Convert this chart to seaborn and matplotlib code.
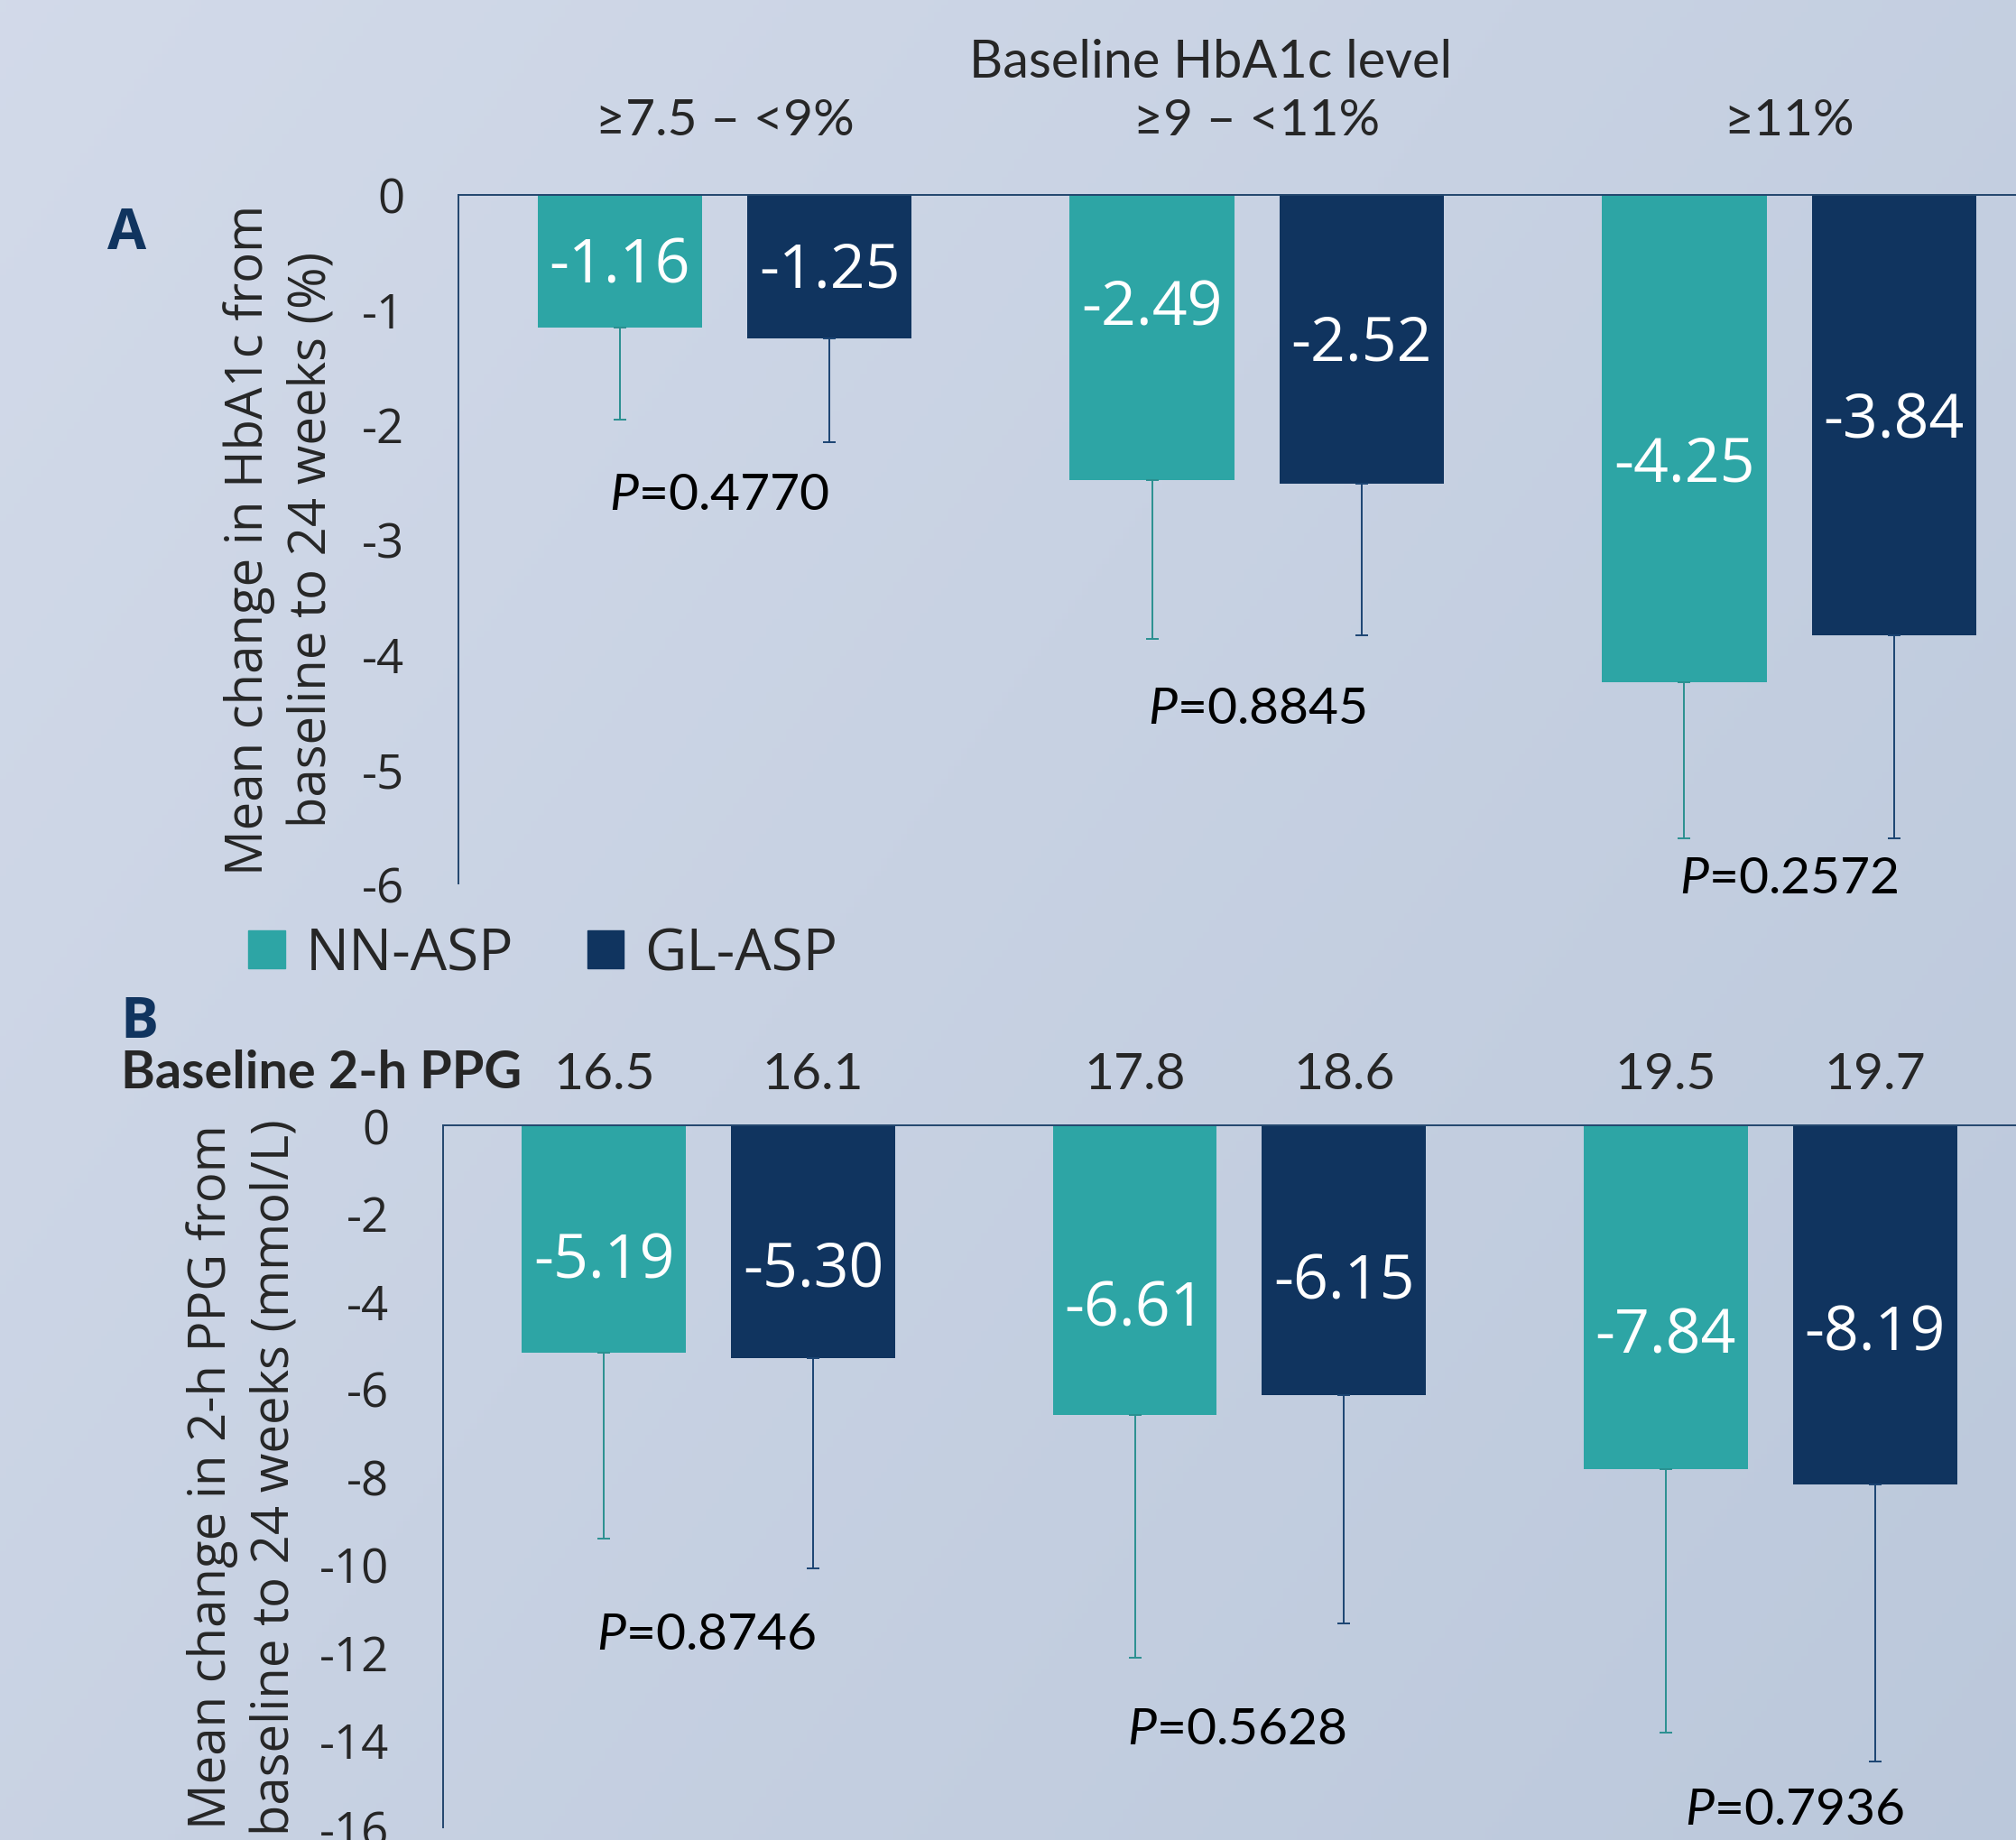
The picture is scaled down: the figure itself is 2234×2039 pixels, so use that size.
"""
HbA1c and 2-h PPG change from baseline to 24 weeks by baseline HbA1c subgroup,
NN-ASP vs GL-ASP (two stacked bar panels, one-sided SD error bars).
"""
import numpy as np
import pandas as pd
import matplotlib
matplotlib.use("Agg")
import matplotlib.pyplot as plt
import matplotlib.transforms as mtrans
from matplotlib.patches import Patch
import seaborn as sns

# ----------------------------------------------------------------------
# Data
# ----------------------------------------------------------------------
GROUPS = ["≥7.5 – <9%", "≥9 – <11%", "≥11%"]
ARMS   = ["NN-ASP", "GL-ASP"]

HBA1C_NN    = [-1.16, -2.49, -4.25]
HBA1C_GL    = [-1.25, -2.52, -3.84]
HBA1C_SD_NN = [0.80, 1.38, 1.36]
HBA1C_SD_GL = [0.91, 1.32, 1.77]
HBA1C_P     = ["0.4770", "0.8845", "0.2572"]

PPG_NN      = [-5.19, -6.61, -7.84]
PPG_GL      = [-5.30, -6.15, -8.19]
PPG_SD_NN   = [4.22, 5.53, 6.00]
PPG_SD_GL   = [4.79, 5.20, 6.30]
PPG_BASE_NN = [16.5, 17.8, 19.5]
PPG_BASE_GL = [16.1, 18.6, 19.7]
PPG_P       = ["0.8746", "0.5628", "0.7936"]

# ----------------------------------------------------------------------
# Annotation placement (data units), bar order NN1, GL1, NN2, GL2, NN3, GL3
# ----------------------------------------------------------------------
LABEL_Y_A = [-0.62, -0.66, -0.99, -1.30, -2.35, -1.97]
LABEL_Y_B = [-3.11, -3.31, -4.19, -3.58, -4.81, -4.75]
P_Y_A     = [-2.62, -4.48, -5.96]
P_Y_B     = [-11.60, -13.76, -15.60]
P_DX_A    = [-0.01, 0.0, 0.0]
P_DX_B    = [-0.005, -0.005, 0.045]

# ----------------------------------------------------------------------
# Style
# ----------------------------------------------------------------------
TEAL      = "#2da5a5"
NAVY      = "#10345f"
TEAL_ERR  = "#2a9090"
NAVY_ERR  = "#1b4472"
SPINE     = "#22466d"
PALETTE   = {"NN-ASP": TEAL, "GL-ASP": NAVY}
ERR_COL   = {"NN-ASP": TEAL_ERR, "GL-ASP": NAVY_ERR}

SANS  = ["Open Sans", "DejaVu Sans"]
CALI  = ["Lato", "DejaVu Sans"]

sns.set_style("white")
plt.rcParams.update({
    "font.family": SANS,
    "axes.unicode_minus": False,
    "mathtext.fontset": "custom",
    "mathtext.rm": "Lato",
    "mathtext.it": "Lato:italic",
})


def long_frame(nn, gl, sd_nn, sd_gl):
    rows = []
    for g, a, b, sa, sb in zip(GROUPS, nn, gl, sd_nn, sd_gl):
        rows.append({"group": g, "arm": "NN-ASP", "value": a, "sd": sa})
        rows.append({"group": g, "arm": "GL-ASP", "value": b, "sd": sb})
    return pd.DataFrame(rows)


def draw_panel(ax, df, ylim, yticks, label_y, p_vals, p_y, p_dx,
               ylabel, ylab_x):
    ax.patch.set_alpha(0)
    sns.barplot(data=df, x="group", y="value", hue="arm",
                order=GROUPS, hue_order=ARMS, palette=PALETTE,
                width=0.788, gap=0.216, errorbar=None, saturation=1,
                linewidth=0, legend=False, ax=ax)

    bars = sorted(ax.patches, key=lambda p: p.get_x())
    for bar, (_, row), ly in zip(bars, df.iterrows(), label_y):
        xc = bar.get_x() + bar.get_width() / 2
        ax.errorbar(xc, row["value"], yerr=[[row["sd"]], [0]], fmt="none",
                    ecolor=ERR_COL[row["arm"]], elinewidth=1.4,
                    capsize=5, capthick=1.4, zorder=1)
        ax.text(xc, ly, f"{row['value']:.2f}", color="white",
                ha="center", va="center", fontsize=49, family=SANS)

    for i, (p, py, dx) in enumerate(zip(p_vals, p_y, p_dx)):
        ax.text(i + dx, py, r"$\mathit{P}$=" + p, ha="center", va="center",
                fontsize=41, family=CALI, color="black")

    ax.set_xlim(-0.5, 2.5)
    ax.set_ylim(*ylim)
    ax.set_yticks(yticks)
    ax.set_yticklabels([f"{t:g}" for t in yticks], fontsize=38, family=SANS)
    ax.tick_params(axis="y", length=0, pad=43)
    ax.tick_params(axis="x", length=0, bottom=False, labelbottom=False)
    ax.set_xlabel("")
    ax.set_ylabel(ylabel, fontsize=40.5, family=SANS, linespacing=1.32)
    ax.yaxis.label.set_va("center")
    ax.yaxis.label.set_multialignment("center")
    ax.yaxis.set_label_coords(ylab_x, 0.5)

    for side in ("right", "bottom"):
        ax.spines[side].set_visible(False)
    for side in ("left", "top"):
        ax.spines[side].set_visible(True)
        ax.spines[side].set_color(SPINE)
        ax.spines[side].set_linewidth(1.4)
    return bars


fig = plt.figure(figsize=(22.34, 20.40), dpi=100)

# soft diagonal background gradient
bg = fig.add_axes([0, 0, 1, 1], zorder=-10)
xx, yy = np.meshgrid(np.linspace(0, 1, 300), np.linspace(0, 1, 300))
t = np.clip(0.6 * xx + 0.4 * yy, 0, 1)[..., None]
c0 = np.array([0.825, 0.855, 0.915])
c1 = np.array([0.735, 0.785, 0.860])
bg.imshow(c0 * (1 - t) + c1 * t, extent=[0, 1, 0, 1], aspect="auto",
          origin="upper")
bg.axis("off")

# ----------------------------------------------------------------------
# Panel A
# ----------------------------------------------------------------------
ax_a = fig.add_axes([0.2274, 0.5196, 0.7921, 0.3742])
df_a = long_frame(HBA1C_NN, HBA1C_GL, HBA1C_SD_NN, HBA1C_SD_GL)
draw_panel(ax_a, df_a, (-6, 0), list(range(-6, 1)), LABEL_Y_A,
           HBA1C_P, P_Y_A, P_DX_A,
           "Mean change in HbA1c from\nbaseline to 24 weeks (%)", -0.111)

top_a = mtrans.blended_transform_factory(ax_a.transData, ax_a.transAxes)
for i, g in enumerate(GROUPS):
    ax_a.text(i, 1.107, g, transform=top_a, ha="center", va="center",
              fontsize=41, family=CALI)
fig.text(0.6007, 0.966, "Baseline HbA1c level", ha="center", va="center",
         fontsize=41.5, family=CALI)
fig.text(0.0631, 0.873, "A", ha="center", va="center", fontsize=45,
         fontweight="bold", color=NAVY, family=SANS)

fig.legend(handles=[Patch(color=PALETTE[a], label=a) for a in ARMS],
           loc="center left", bbox_to_anchor=(0.1231, 0.4811), ncol=2,
           frameon=False, prop={"family": SANS, "size": 46},
           handlelength=0.64, handleheight=0.64, handletextpad=0.36,
           columnspacing=1.27, borderpad=0, borderaxespad=0)

# ----------------------------------------------------------------------
# Panel B
# ----------------------------------------------------------------------
ax_b = fig.add_axes([0.2198, 0.00686, 0.7900, 0.3814])
df_b = long_frame(PPG_NN, PPG_GL, PPG_SD_NN, PPG_SD_GL)
bars_b = draw_panel(ax_b, df_b, (-16, 0), list(range(-16, 1, 2)), LABEL_Y_B,
                    PPG_P, P_Y_B, P_DX_B,
                    "Mean change in 2-h PPG from\nbaseline to 24 weeks (mmol/L)",
                    -0.125)

top_b = mtrans.blended_transform_factory(ax_b.transData, ax_b.transAxes)
baselines = [v for pair in zip(PPG_BASE_NN, PPG_BASE_GL) for v in pair]
for bar, base in zip(bars_b, baselines):
    ax_b.text(bar.get_x() + bar.get_width() / 2, 1.072, f"{base:.1f}",
              transform=top_b, ha="center", va="center", fontsize=41,
              family=CALI)
fig.text(0.259, 0.4167, "Baseline 2-h PPG", ha="right", va="center",
         fontsize=41.5, fontweight="bold", family=CALI)
fig.text(0.069, 0.4446, "B", ha="center", va="center", fontsize=45,
         fontweight="bold", color=NAVY, family=SANS)

fig.savefig("out.png", dpi=100)
